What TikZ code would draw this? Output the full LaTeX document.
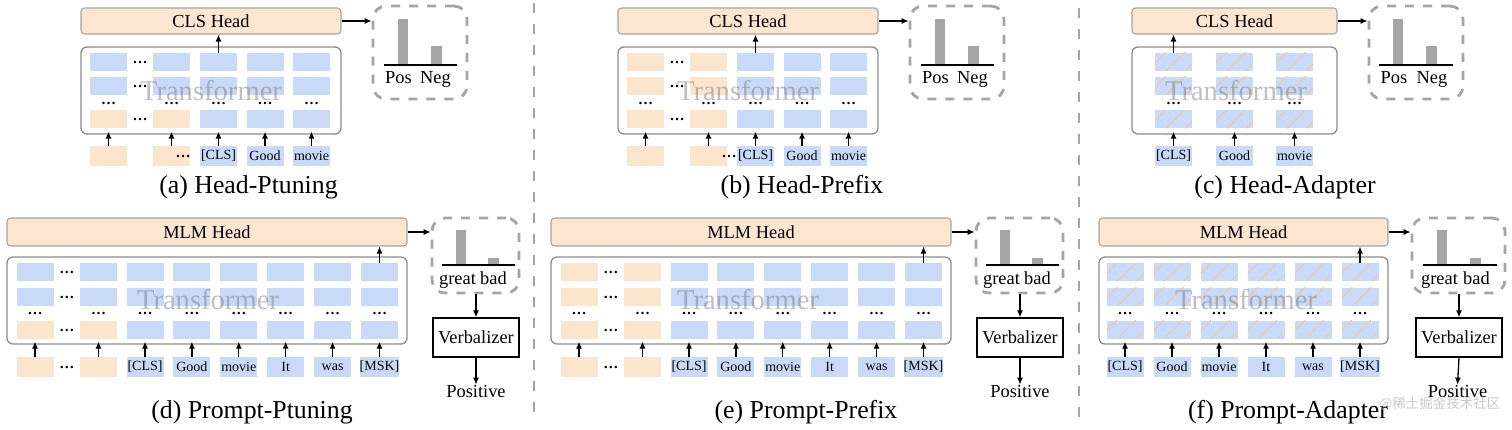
\documentclass[tikz,border=0pt]{standalone}
\usepackage{fontspec}
\setmainfont{Liberation Serif}
\newfontfamily\cjkfont{Noto Sans CJK SC}
\usetikzlibrary{arrows.meta}
\definecolor{blueblk}{RGB}{201,218,248}
\definecolor{orangeblk}{RGB}{252,229,205}
\definecolor{headfill}{RGB}{252,230,208}
\definecolor{headline}{RGB}{165,165,165}
\definecolor{tfline}{RGB}{140,140,140}
\definecolor{dashgray}{RGB}{165,165,165}
\definecolor{bargray}{RGB}{165,165,165}
\definecolor{hatchcol}{RGB}{240,200,160}
\definecolor{wmgray}{RGB}{190,190,190}
\newcommand\fsz[1]{\fontsize{#1}{#1}\selectfont}
\newcommand\hblk[3]{%
  \node[bl] (#1) at (#2,#3) {};
  \begin{scope}
    \clip (#1.south west) rectangle (#1.north east);
    \foreach \k in {0,1,2} \draw[hatch] ([xshift=\k*19pt-8pt]#1.south west) -- ++(24pt,24pt);
  \end{scope}}
\newcommand\TopFrame[1]{%
  \node[headbox, minimum width=260pt, minimum height=26pt] (#1-head) at (211,21) {CLS Head};
  \node[tfbox, minimum width=260pt, minimum height=87pt] (#1-tf) at (211,90.5) {};
  \node[distbox, minimum width=94pt, minimum height=93pt] (#1-dist) at (420,52.5) {};
  \node[barbox, minimum height=46pt] (#1-bar1) at (403,65) {};
  \node[barbox, minimum height=19pt] (#1-bar2) at (436.5,65) {};
  \coordinate (#1-axl) at (384,65);
  \coordinate (#1-axr) at (457,65);
  \draw[axisline] (#1-axl) -- (#1-axr);
  \node[lbl] (#1-pos) at (398.5,84) {Pos};
  \node[lbl] (#1-neg) at (435.5,84) {Neg};
  \draw[arr] (#1-head.east) -- (#1-head.east -| #1-dist.west);}
\newcommand\BotFrame[1]{%
  \node[headbox, minimum width=400pt, minimum height=28pt] (#1-head) at (207,232) {MLM Head};
  \node[tfbox, minimum width=400pt, minimum height=87pt] (#1-tf) at (207,300.5) {};
  \node[distbox, minimum width=87pt, minimum height=75pt] (#1-dist) at (475.5,255.5) {};
  \node[barbox, minimum height=35pt] (#1-bar1) at (461,265) {};
  \node[barbox, minimum height=7pt] (#1-bar2) at (493.5,265) {};
  \coordinate (#1-axl) at (442,265);
  \coordinate (#1-axr) at (515,265);
  \draw[axisline] (#1-axl) -- (#1-axr);
  \node[lbl] (#1-great) at (457.5,284) {great};
  \node[lbl] (#1-bad) at (493.5,284) {bad};
  \node[verbbox, minimum width=86pt, minimum height=39pt] (#1-verb) at (476,337.5) {Verbalizer};
  \node[lbl] (#1-posv) at (476,397) {Positive};
  \draw[arr] (#1-head.east) -- (#1-head.east -| #1-dist.west);
  \draw[arr] (#1-dist.south -| #1-verb.north) -- (#1-verb.north);
  \draw[arr] (#1-verb.south) -- (#1-posv.north);}
\begin{document}
\begin{tikzpicture}[x=1pt,y=-1pt,
  arr/.style={-{Latex[length=7pt,width=6pt]}, line width=1.3pt},
  uparr/.style={arr, shorten >=-3pt},
  blk/.style={minimum width=37pt, minimum height=18pt, inner sep=0pt, outer sep=0pt},
  bl/.style={blk, fill=blueblk},
  og/.style={blk, fill=orangeblk},
  tokb/.style={minimum width=37pt, minimum height=20pt, inner sep=0pt, outer sep=0pt, fill=blueblk, font=\fsz{14}},
  toko/.style={tokb, fill=orangeblk},
  dotsn/.style={anchor=base, yshift=-1.5pt, inner sep=0pt, font=\fsz{15}\bfseries},
  headbox/.style={draw=headline, fill=headfill, line width=1.1pt, rounded corners=3.5pt, inner sep=0pt, font=\fsz{18.4}},
  tfbox/.style={draw=tfline, line width=1.3pt, rounded corners=6pt, inner sep=0pt},
  tftext/.style={font=\fsz{28.6}, text=black!55, text opacity=0.45, inner sep=0pt},
  distbox/.style={draw=dashgray, line width=2.8pt, dash pattern=on 9pt off 9pt, rounded corners=13pt, inner sep=0pt},
  barbox/.style={fill=bargray, minimum width=10.5pt, inner sep=0pt, outer sep=0pt, anchor=south},
  axisline/.style={line width=1.3pt},
  lbl/.style={font=\fsz{18.4}, inner sep=0pt, anchor=base},
  verbbox/.style={draw, line width=1.2pt, fill=white, inner sep=0pt, font=\fsz{18.4}},
  captxt/.style={font=\fsz{25.8}, inner sep=0pt},
  sepline/.style={draw=dashgray, line width=2.8pt, dash pattern=on 10pt off 11pt},
  hatch/.style={draw=hatchcol, line width=0.9pt},
]
\fill[white] (0,0) rectangle (1512,430);
\useasboundingbox (0,0) rectangle (1512,430);

% separators
\coordinate (s1t) at (534,3);  \coordinate (s1b) at (534,422);
\coordinate (s2t) at (1079,8); \coordinate (s2b) at (1079,422);
\draw[sepline] (s1t) -- (s1b);
\draw[sepline] (s2t) -- (s2b);

% ===== (a) Head-Ptuning =====
\TopFrame{a}
\foreach \x/\c in {108.5/1,171.5/2}{
  \node[bl] (a-\c-1) at (\x,62) {};
  \node[bl] (a-\c-2) at (\x,86) {};
  \node[og] (a-\c-4) at (\x,119.5) {};
}
\foreach \x/\c in {218.5/3,265/4,311.5/5}{
  \foreach \y/\r in {62/1,86/2,119.5/4} \node[bl] (a-\c-\r) at (\x,\y) {};
}
\foreach \x/\c in {108.5/1,171.5/2,218.5/3,265/4,311.5/5} \node[dotsn] (a-d\c) at (\x,103) {…};
\foreach \y/\r in {62/1,86/2,119.5/4} \node[dotsn] (a-m\r) at (140,\y) {…};
\node[toko] (a-t1) at (108.5,156) {};
\node[toko] (a-t2) at (171.5,156) {};
\node[dotsn] (a-tm) at (183,156) {…};
\node[tokb] (a-t3) at (218.5,156) {[CLS]};
\node[tokb] (a-t4) at (265,156) {Good};
\node[tokb] (a-t5) at (311.5,156) {movie};
\foreach \c in {1,...,5} \draw[uparr] (a-t\c.north) -- (a-t\c.north |- a-tf.south);
\draw[arr] (a-3-1.north) -- (a-3-1.north |- a-head.south);
\node[tftext] (a-tft) at (211,91) {Transformer};
\node[captxt] (a-cap) at (248.5,187) {(a) Head-Ptuning};

% ===== (b) Head-Prefix =====
\begin{scope}[xshift=537pt]
\TopFrame{b}
\foreach \x/\c in {108.5/1,171.5/2}{
  \foreach \y/\r in {62/1,86/2,119.5/4} \node[og] (b-\c-\r) at (\x,\y) {};
}
\foreach \x/\c in {218.5/3,265/4,311.5/5}{
  \foreach \y/\r in {62/1,86/2,119.5/4} \node[bl] (b-\c-\r) at (\x,\y) {};
}
\foreach \x/\c in {108.5/1,171.5/2,218.5/3,265/4,311.5/5} \node[dotsn] (b-d\c) at (\x,103) {…};
\foreach \y/\r in {62/1,86/2,119.5/4} \node[dotsn] (b-m\r) at (140,\y) {…};
\node[toko] (b-t1) at (108.5,156) {};
\node[toko] (b-t2) at (171.5,156) {};
\node[tokb] (b-t3) at (218.5,156) {[CLS]};
\node[dotsn] (b-tm) at (192,156) {…};
\node[tokb] (b-t4) at (265,156) {Good};
\node[tokb] (b-t5) at (311.5,156) {movie};
\foreach \c in {1,...,5} \draw[uparr] (b-t\c.north) -- (b-t\c.north |- b-tf.south);
\draw[arr] (b-3-1.north) -- (b-3-1.north |- b-head.south);
\node[tftext] (b-tft) at (211,91) {Transformer};
\node[captxt] (b-cap) at (265,187) {(b) Head-Prefix};
\end{scope}

% ===== (c) Head-Adapter =====
\node[headbox, minimum width=205pt, minimum height=26pt] (c-head) at (1234.5,21) {CLS Head};
\node[tfbox, minimum width=205pt, minimum height=87pt] (c-tf) at (1234.5,90.5) {};
\foreach \x/\c in {1173.5/1,1234.5/2,1294.5/3}{
  \foreach \y/\r in {62/1,86/2,119.5/4} {\hblk{c-\c-\r}{\x}{\y}}
  \node[dotsn] (c-d\c) at (\x,103) {…};
}
\node[tokb] (c-t1) at (1173.5,156) {[CLS]};
\node[tokb] (c-t2) at (1234.5,156) {Good};
\node[tokb] (c-t3) at (1294.5,156) {movie};
\foreach \c in {1,2,3} \draw[uparr] (c-t\c.north) -- (c-t\c.north |- c-tf.south);
\draw[arr] (c-1-1.north) -- (c-1-1.north |- c-head.south);
\node[tftext] (c-tft) at (1236,91) {Transformer};
\node[distbox, minimum width=94pt, minimum height=93pt] (c-dist) at (1416,52.5) {};
\node[barbox, minimum height=46pt] (c-bar1) at (1398,65) {};
\node[barbox, minimum height=19pt] (c-bar2) at (1431.5,65) {};
\coordinate (c-axl) at (1379,65);
\coordinate (c-axr) at (1453,65);
\draw[axisline] (c-axl) -- (c-axr);
\node[lbl] (c-pos) at (1394,84) {Pos};
\node[lbl] (c-neg) at (1432,84) {Neg};
\draw[arr] (c-head.east) -- (c-head.east -| c-dist.west);
\node[captxt] (c-cap) at (1285,187) {(c) Head-Adapter};

% ===== (d) Prompt-Ptuning =====
\BotFrame{d}
\foreach \x/\c in {35/1,98.5/2}{
  \node[bl] (d-\c-1) at (\x,272.5) {};
  \node[bl] (d-\c-2) at (\x,297) {};
  \node[og] (d-\c-4) at (\x,329.5) {};
}
\foreach \x/\c in {145/3,191.9/4,238.8/5,285.7/6,332.6/7,379.5/8}{
  \foreach \y/\r in {272.5/1,297/2,329.5/4} \node[bl] (d-\c-\r) at (\x,\y) {};
}
\foreach \x/\c in {35/1,98.5/2,145/3,191.9/4,238.8/5,285.7/6,332.6/7,379.5/8} \node[dotsn] (d-d\c) at (\x,313) {…};
\foreach \y/\r in {272.5/1,297/2,329.5/4} \node[dotsn] (d-m\r) at (66.75,\y) {…};
\node[toko] (d-t1) at (35,367) {};
\node[dotsn] (d-tm) at (66.75,367) {…};
\node[toko] (d-t2) at (98.5,367) {};
\node[tokb] (d-t3) at (145,367) {[CLS]};
\node[tokb] (d-t4) at (191.9,367) {Good};
\node[tokb] (d-t5) at (238.8,367) {movie};
\node[tokb] (d-t6) at (285.7,367) {It};
\node[tokb] (d-t7) at (332.6,367) {was};
\node[tokb] (d-t8) at (379.5,367) {[MSK]};
\foreach \c in {1,...,8} \draw[uparr] (d-t\c.north) -- (d-t\c.north |- d-tf.south);
\draw[arr] (d-8-1.north) -- (d-8-1.north |- d-head.south);
\node[tftext] (d-tft) at (208,299.5) {Transformer};
\node[captxt] (d-cap) at (252,412.5) {(d) Prompt-Ptuning};

% ===== (e) Prompt-Prefix =====
\begin{scope}[xshift=544pt]
\BotFrame{e}
\foreach \x/\c in {35/1,98.5/2}{
  \foreach \y/\r in {272.5/1,297/2,329.5/4} \node[og] (e-\c-\r) at (\x,\y) {};
}
\foreach \x/\c in {145/3,191.9/4,238.8/5,285.7/6,332.6/7,379.5/8}{
  \foreach \y/\r in {272.5/1,297/2,329.5/4} \node[bl] (e-\c-\r) at (\x,\y) {};
}
\foreach \x/\c in {35/1,98.5/2,145/3,191.9/4,238.8/5,285.7/6,332.6/7,379.5/8} \node[dotsn] (e-d\c) at (\x,313) {…};
\foreach \y/\r in {272.5/1,297/2,329.5/4} \node[dotsn] (e-m\r) at (66.75,\y) {…};
\node[toko] (e-t1) at (35,367) {};
\node[dotsn] (e-tm) at (66.75,367) {…};
\node[toko] (e-t2) at (98.5,367) {};
\node[tokb] (e-t3) at (145,367) {[CLS]};
\node[tokb] (e-t4) at (191.9,367) {Good};
\node[tokb] (e-t5) at (238.8,367) {movie};
\node[tokb] (e-t6) at (285.7,367) {It};
\node[tokb] (e-t7) at (332.6,367) {was};
\node[tokb] (e-t8) at (379.5,367) {[MSK]};
\foreach \c in {1,...,8} \draw[uparr] (e-t\c.north) -- (e-t\c.north |- e-tf.south);
\draw[arr] (e-8-1.north) -- (e-8-1.north |- e-head.south);
\node[tftext] (e-tft) at (204,299.5) {Transformer};
\node[captxt] (e-cap) at (262,412.5) {(e) Prompt-Prefix};
\end{scope}

% ===== (f) Prompt-Adapter =====
\node[headbox, minimum width=289pt, minimum height=28pt] (f-head) at (1243.5,232) {MLM Head};
\node[tfbox, minimum width=289pt, minimum height=87pt] (f-tf) at (1243.5,300.5) {};
\foreach \x/\c in {1125/1,1172/2,1219/3,1266/4,1313/5,1360/6}{
  \foreach \y/\r in {272.5/1,297/2,329.5/4} {\hblk{f-\c-\r}{\x}{\y}}
  \node[dotsn] (f-d\c) at (\x,313) {…};
}
\node[tokb] (f-t1) at (1125,367) {[CLS]};
\node[tokb] (f-t2) at (1172,367) {Good};
\node[tokb] (f-t3) at (1219,367) {movie};
\node[tokb] (f-t4) at (1266,367) {It};
\node[tokb] (f-t5) at (1313,367) {was};
\node[tokb] (f-t6) at (1360,367) {[MSK]};
\foreach \c in {1,...,6} \draw[uparr] (f-t\c.north) -- (f-t\c.north |- f-tf.south);
\draw[arr] (f-6-1.north) -- (f-6-1.north |- f-head.south);
\node[tftext] (f-tft) at (1246,299.5) {Transformer};
\node[distbox, minimum width=93pt, minimum height=75pt] (f-dist) at (1458.5,255.5) {};
\node[barbox, minimum height=35pt] (f-bar1) at (1442,265) {};
\node[barbox, minimum height=7pt] (f-bar2) at (1475.5,265) {};
\coordinate (f-axl) at (1423,265);
\coordinate (f-axr) at (1497,265);
\draw[axisline] (f-axl) -- (f-axr);
\node[lbl] (f-great) at (1439.5,284) {great};
\node[lbl] (f-bad) at (1476.5,284) {bad};
\node[verbbox, minimum width=86pt, minimum height=39pt] (f-verb) at (1459,337.5) {Verbalizer};
\node[lbl] (f-posv) at (1457.5,397) {Positive};
\draw[arr] (f-head.east) -- (f-head.east -| f-dist.west);
\draw[arr] (f-dist.south -| f-verb.north) -- (f-verb.north);
\draw[arr] (f-verb.south) -- (f-posv.north);
\node[captxt] (f-cap) at (1288,412.5) {(f) Prompt-Adapter};

% watermark
\node[font=\cjkfont\fsz{13.5}, text=wmgray, text opacity=0.8, inner sep=0pt] (wm) at (1440,404) {@稀土掘金技术社区};
\end{tikzpicture}
\end{document}
